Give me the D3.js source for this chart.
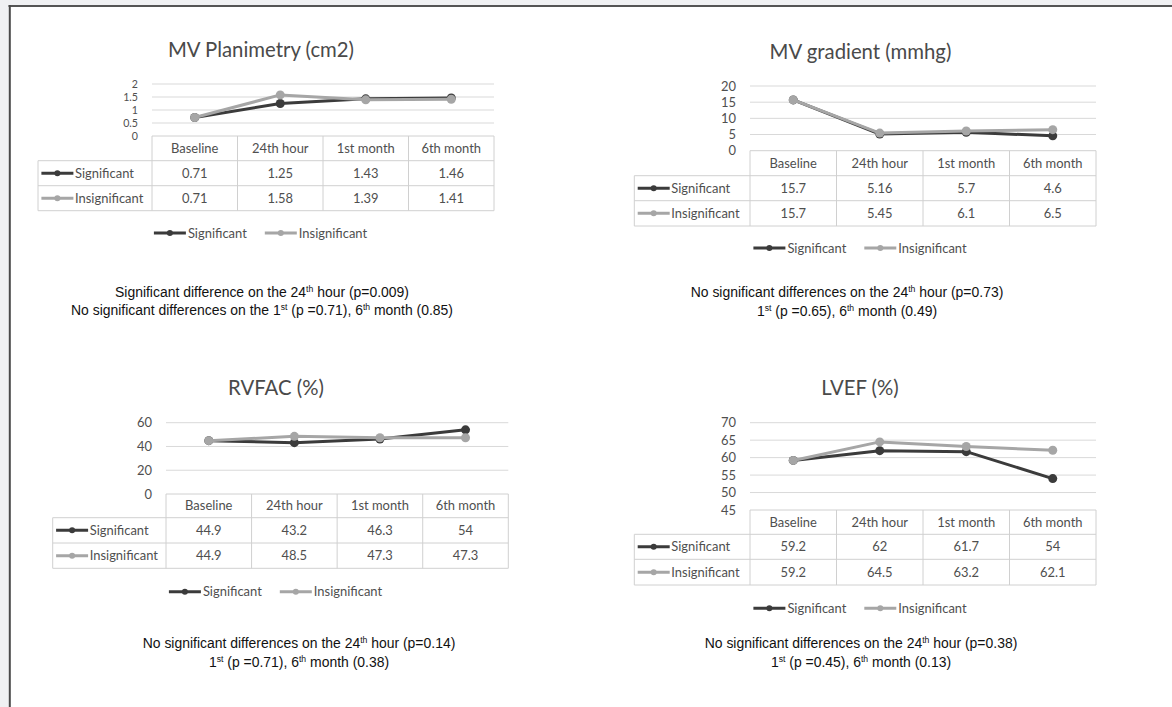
<!DOCTYPE html>
<html><head><meta charset="utf-8">
<script src="https://cdn.jsdelivr.net/npm/d3@7"></script>
<style>html,body{margin:0;padding:0;background:#f0f1f3;} svg{display:block}</style>
</head><body><svg id="c" width="1172" height="707"></svg>
<script>
// ---------- DATA ----------
const categories = ["Baseline", "24th hour", "1st month", "6th month"];
const seriesNames = ["Significant", "Insignificant"];

const planimetrySig = [0.71, 1.25, 1.43, 1.46];
const planimetryIns = [0.71, 1.58, 1.39, 1.41];
const planimetryTicks = [0, 0.5, 1, 1.5, 2];

const gradientSig = [15.7, 5.16, 5.7, 4.6];
const gradientIns = [15.7, 5.45, 6.1, 6.5];
const gradientTicks = [0, 5, 10, 15, 20];

const rvfacSig = [44.9, 43.2, 46.3, 54];
const rvfacIns = [44.9, 48.5, 47.3, 47.3];
const rvfacTicks = [0, 20, 40, 60];

const lvefSig = [59.2, 62, 61.7, 54];
const lvefIns = [59.2, 64.5, 63.2, 62.1];
const lvefTicks = [45, 50, 55, 60, 65, 70];

const titles = ["MV Planimetry (cm2)", "MV gradient (mmhg)", "RVFAC (%)", "LVEF (%)"];
const notes1 = ["Significant difference on the 24^th hour (p=0.009)",
                "No significant differences on the 1^st (p =0.71), 6^th month (0.85)"];
const notes2 = ["No significant differences on the 24^th hour (p=0.73)",
                "1^st (p =0.65), 6^th month (0.49)"];
const notes3 = ["No significant differences on the 24^th hour (p=0.14)",
                "1^st (p =0.71), 6^th month (0.38)"];
const notes4 = ["No significant differences on the 24^th hour (p=0.38)",
                "1^st (p =0.45), 6^th month (0.13)"];

// ---------- STYLE / LAYOUT ----------
const colors = ["#3b3b3b", "#a6a6a6"];
const textGray = "#4f4f4f";
const gridColor = "#d9d9d9";
const tableColor = "#d0d0d0";
const FONT = "Lato, 'Open Sans', sans-serif";
const NOTE_FONT = "'Liberation Sans', Arial, sans-serif";

const svg = d3.select("#c");

// frame
svg.append("rect").attr("x", 10).attr("y", 7).attr("width", 1162).attr("height", 700).attr("fill", "#fff");
svg.append("line").attr("x1", 8.5).attr("x2", 1172).attr("y1", 6).attr("y2", 6).attr("stroke", "#555").attr("stroke-width", 2);
svg.append("line").attr("x1", 9.8).attr("x2", 9.8).attr("y1", 5).attr("y2", 707).attr("stroke", "#4a4a4a").attr("stroke-width", 2);

function measure(txt, font, size) {
  const t = svg.append("text").attr("font-family", font).attr("font-size", size).text(txt);
  const w = t.node().getComputedTextLength();
  t.remove();
  return w;
}
// calibrate substitute font against Calibri widths ("Significant" = 4.209 em)
const k = 420.9 / measure("Significant", FONT, 100);

const panels = [
  { title: titles[0], sig: planimetrySig, ins: planimetryIns, ticks: planimetryTicks, notes: notes1, tickFont: 10.6,
    x0: 152, x1: 494, yTop: 84, rows: [136, 160.7, 185.7, 210.7], tableLeft: 38,
    titleX: 261, titleY: 57, legendX: 261, legendY: 233, noteX: 262, noteY: [297, 315] },
  { title: titles[1], sig: gradientSig, ins: gradientIns, ticks: gradientTicks, notes: notes2, tickFont: 14 * k,
    x0: 750, x1: 1096, yTop: 86, rows: [150.7, 175.7, 200.7, 226], tableLeft: 634.3,
    titleX: 860.5, titleY: 59, legendX: 860.5, legendY: 248, noteX: 847, noteY: [297, 316] },
  { title: titles[2], sig: rvfacSig, ins: rvfacIns, ticks: rvfacTicks, notes: notes3, tickFont: 14 * k,
    x0: 166, x1: 508.3, yTop: 422.7, rows: [494, 517.7, 543, 568.3], tableLeft: 52.7,
    titleX: 276, titleY: 395, legendX: 276, legendY: 591.7, noteX: 299, noteY: [648, 667] },
  { title: titles[3], sig: lvefSig, ins: lvefIns, ticks: lvefTicks, notes: notes4, tickFont: 14 * k,
    x0: 750, x1: 1096, yTop: 422.7, rows: [510, 534.3, 559.3, 585], tableLeft: 634.3,
    titleX: 860, titleY: 395, legendX: 860.5, legendY: 608.3, noteX: 861, noteY: [648.3, 667.3] }
];

function addRich(textSel, s, size) {
  const parts = s.split(/(\^\w+)/);
  let reset = false;
  parts.forEach(part => {
    if (!part) return;
    if (part.startsWith("^")) {
      textSel.append("tspan").attr("font-size", size * 0.62).attr("dy", -size * 0.36).text(part.slice(1));
      reset = true;
    } else {
      const t = textSel.append("tspan").text(part);
      if (reset) { t.attr("dy", size * 0.36); reset = false; }
    }
  });
}

function icon(g, x, y, color) {
  g.append("line").attr("x1", x).attr("x2", x + 32).attr("y1", y).attr("y2", y)
    .attr("stroke", color).attr("stroke-width", 3);
  g.append("circle").attr("cx", x + 16).attr("cy", y).attr("r", 3).attr("fill", color);
}

function drawPanel(p) {
  const g = svg.append("g");
  const x = d3.scaleBand().domain(categories).range([p.x0, p.x1]);
  const y = d3.scaleLinear().domain([p.ticks[0], p.ticks[p.ticks.length - 1]]).range([p.rows[0], p.yTop]);
  const cx = c => x(c) + x.bandwidth() / 2;

  // title
  g.append("text").attr("x", p.titleX).attr("y", p.titleY).attr("text-anchor", "middle")
    .attr("font-family", FONT).attr("font-size", 22 * k).attr("fill", "#4a4a4a").text(p.title);

  // gridlines
  g.selectAll("line.grid").data(p.ticks.slice(1)).join("line").attr("class", "grid")
    .attr("x1", p.x0).attr("x2", p.x1).attr("y1", d => y(d)).attr("y2", d => y(d))
    .attr("stroke", gridColor).attr("stroke-width", 1);

  // axis labels
  const ax = g.append("g").attr("transform", `translate(${p.x0},0)`)
    .call(d3.axisLeft(y).tickValues(p.ticks).tickSize(0).tickPadding(14).tickFormat(d3.format("")));
  ax.select(".domain").remove();
  ax.selectAll("text").attr("font-family", FONT).attr("font-size", p.tickFont).attr("fill", textGray);

  // table
  const r = p.rows;
  const tg = g.append("g").attr("stroke", tableColor).attr("stroke-width", 1);
  tg.append("line").attr("x1", p.x0).attr("x2", p.x1).attr("y1", r[0]).attr("y2", r[0]);
  for (let i = 1; i < 4; i++) tg.append("line").attr("x1", p.tableLeft).attr("x2", p.x1).attr("y1", r[i]).attr("y2", r[i]);
  const bounds = categories.map(c => x(c)).concat([p.x1]);
  bounds.forEach(b => tg.append("line").attr("x1", b).attr("x2", b).attr("y1", r[0]).attr("y2", r[3]));
  tg.append("line").attr("x1", p.tableLeft).attr("x2", p.tableLeft).attr("y1", r[1]).attr("y2", r[3]);

  const fs = 14 * k;
  const rowMid = i => (r[i] + r[i + 1]) / 2;
  g.selectAll("text.hdr").data(categories).join("text").attr("class", "hdr")
    .attr("x", d => cx(d)).attr("y", rowMid(0)).attr("dy", "0.35em").attr("text-anchor", "middle")
    .attr("font-family", FONT).attr("font-size", fs).attr("fill", textGray).text(d => d);
  [p.sig, p.ins].forEach((vals, si) => {
    g.selectAll(null).data(vals).join("text")
      .attr("x", (d, i) => cx(categories[i])).attr("y", rowMid(si + 1)).attr("dy", "0.35em").attr("text-anchor", "middle")
      .attr("font-family", FONT).attr("font-size", fs).attr("fill", textGray).text(d => String(d));
    icon(g, p.tableLeft + 3.4, rowMid(si + 1), colors[si]);
    g.append("text").attr("x", p.tableLeft + 37).attr("y", rowMid(si + 1)).attr("dy", "0.35em")
      .attr("font-family", FONT).attr("font-size", fs).attr("fill", textGray).text(seriesNames[si]);
  });

  // series lines
  const line = d3.line().x((d, i) => cx(categories[i])).y(d => y(d));
  [p.sig, p.ins].forEach((vals, si) => {
    g.append("path").datum(vals).attr("d", line).attr("fill", "none")
      .attr("stroke", colors[si]).attr("stroke-width", 3).attr("stroke-linejoin", "round");
    g.selectAll(null).data(vals).join("circle")
      .attr("cx", (d, i) => cx(categories[i])).attr("cy", d => y(d)).attr("r", 4.5).attr("fill", colors[si]);
  });

  // legend
  const w0 = measure(seriesNames[0], FONT, fs), w1 = measure(seriesNames[1], FONT, fs);
  const total = 35 + w0 + 17 + 35 + w1;
  let lx = p.legendX - total / 2;
  const lg = g.append("g");
  [w0, w1].forEach((w, si) => {
    icon(lg, lx, p.legendY, colors[si]);
    lg.append("text").attr("x", lx + 34).attr("y", p.legendY).attr("dy", "0.35em")
      .attr("font-family", FONT).attr("font-size", fs).attr("fill", textGray).text(seriesNames[si]);
    lx += 35 + w + 17;
  });

  // notes
  p.notes.forEach((n, i) => {
    const t = g.append("text").attr("transform", `translate(${p.noteX},${p.noteY[i]}) scale(0.93,1)`)
      .attr("text-anchor", "middle").attr("font-family", NOTE_FONT).attr("font-size", 15).attr("fill", "#111");
    addRich(t, n, 15);
  });
}

panels.forEach(drawPanel);
</script>
</body></html>
